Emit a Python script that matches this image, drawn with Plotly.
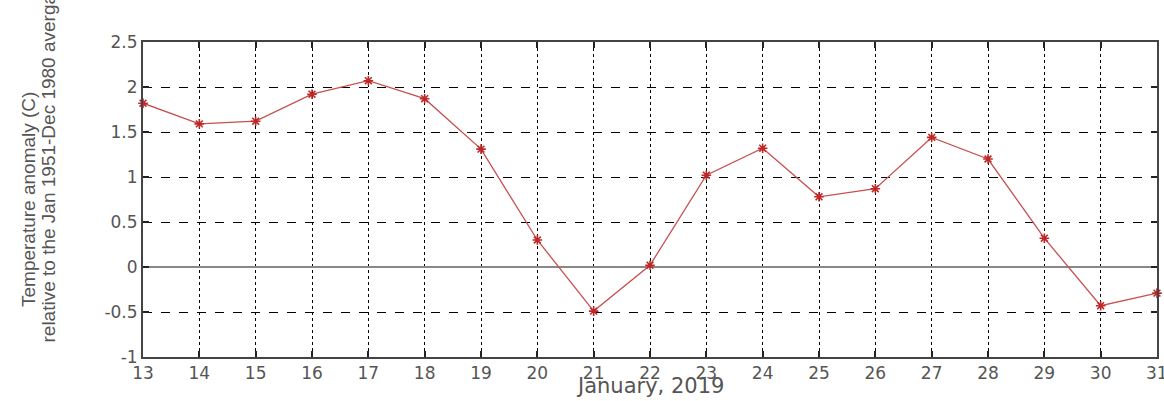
import plotly.graph_objects as go

days = [13, 14, 15, 16, 17, 18, 19, 20, 21, 22, 23, 24, 25, 26, 27, 28, 29, 30, 31]
anomaly = [1.82, 1.59, 1.62, 1.92, 2.07, 1.87, 1.31, 0.30, -0.49, 0.02, 1.02, 1.32, 0.78, 0.87, 1.44, 1.20, 0.32, -0.43, -0.29]
x_ticks = list(range(13, 32))
y_ticks = [-1, -0.5, 0, 0.5, 1, 1.5, 2, 2.5]
y_tick_text = ["-1", "-0.5", "0", "0.5", "1", "1.5", "2", "2.5"]
x_title = "January, 2019"
y_title_1 = "Temperature anomaly (C)"
y_title_2 = "relative to the Jan 1951-Dec 1980 avergae"

fig = go.Figure()
fig.add_trace(go.Scatter(
    x=days, y=anomaly, mode="lines+markers",
    line=dict(color="#c85050", width=1.3),
    marker=dict(symbol="asterisk-open", size=8, color="#c02828",
                line=dict(color="#c02828", width=1.6)),
    showlegend=False, cliponaxis=False,
))

font_family = "DejaVu Sans, Liberation Sans, Arial, sans-serif"
axis_font = dict(family=font_family, size=17, color="#555555")

fig.update_layout(
    width=1164, height=401,
    margin=dict(l=143, r=7, t=42, b=44),
    paper_bgcolor="white", plot_bgcolor="white",
    xaxis=dict(
        range=[13, 31], tickvals=x_ticks[:-1], ticktext=[str(d) for d in x_ticks[:-1]],
        showgrid=True, gridcolor="black", gridwidth=1.2, griddash="dot",
        showline=True, linecolor="#444444", linewidth=2, mirror="ticks",
        ticks="inside", ticklen=6, tickcolor="#222222", tickwidth=1.5,
        tickfont=axis_font, zeroline=False, automargin=False,
    ),
    yaxis=dict(
        range=[-1, 2.5], tickvals=y_ticks, ticktext=y_tick_text,
        showgrid=True, gridcolor="black", gridwidth=1.2, griddash="dash",
        showline=True, linecolor="#444444", linewidth=2, mirror="ticks",
        ticks="inside", ticklen=6, tickcolor="#222222", tickwidth=1.5,
        tickfont=axis_font, zeroline=True, zerolinecolor="#888888", zerolinewidth=2,
        automargin=False,
    ),
    annotations=[
        # last x tick label (partly cut by the right edge, as in the original)
        dict(text=str(x_ticks[-1]), xref="x", yref="paper", x=x_ticks[-1], y=(357 - 373) / 315,
             xanchor="center", yanchor="middle", showarrow=False, font=axis_font),
        dict(text=x_title, xref="paper", yref="paper", x=(650 - 143) / 1014, y=(357 - 386) / 315,
             xanchor="center", yanchor="middle", showarrow=False,
             font=dict(family=font_family, size=21, color="#555555")),
        dict(text=y_title_1, xref="paper", yref="paper", x=(28 - 143) / 1014, y=(357 - 200) / 315,
             xanchor="center", yanchor="middle", textangle=-90, showarrow=False,
             font=dict(family="Liberation Sans Narrow, Liberation Sans, Arial, sans-serif", size=19, color="#555555")),
        dict(text=y_title_2, xref="paper", yref="paper", x=(48 - 143) / 1014, y=(357 - 345) / 315,
             xanchor="center", yanchor="bottom", textangle=-90, showarrow=False,
             font=dict(family="Liberation Sans Narrow, Liberation Sans, Arial, sans-serif", size=19, color="#555555")),
    ],
)

fig.write_html("out.html", config={"displayModeBar": False},
               post_script="document.body.style.margin='0';document.body.style.overflow='hidden';")
